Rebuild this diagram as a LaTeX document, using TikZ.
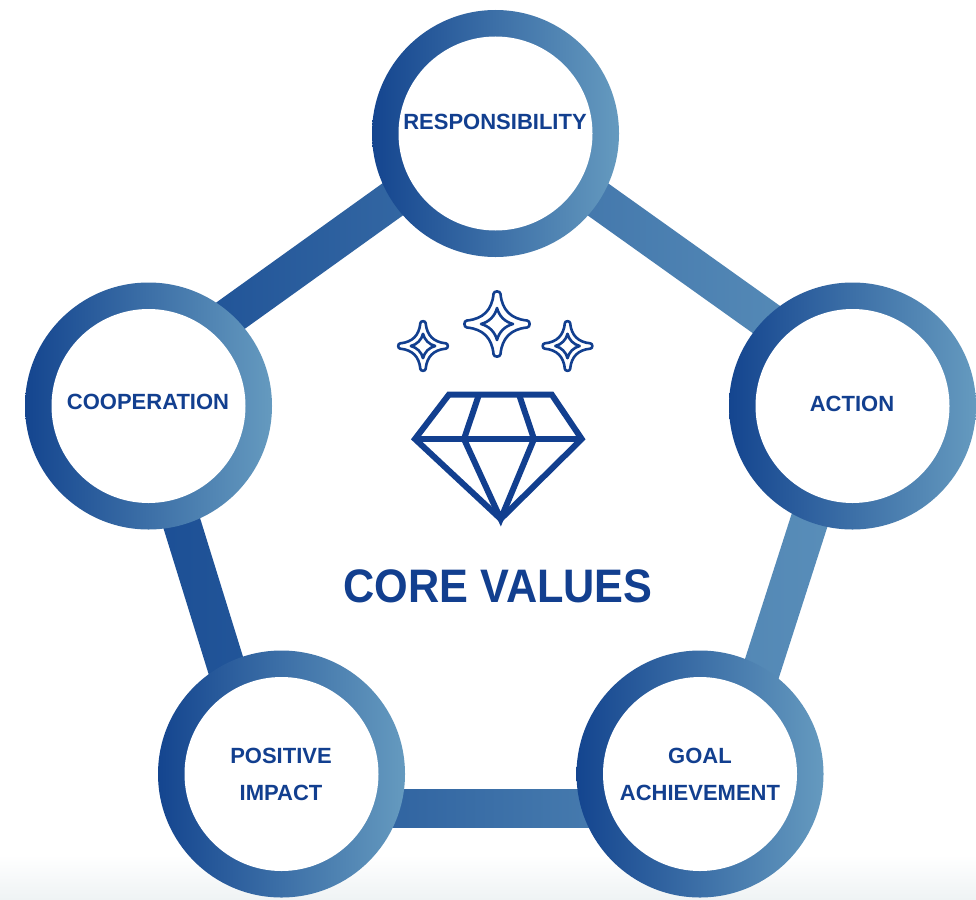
\documentclass[tikz,border=0pt]{standalone}
\usepackage{fontspec}
\setmainfont{Liberation Sans}
\usetikzlibrary{calc}
\definecolor{valblue}{HTML}{123F8F}
\definecolor{ringL}{HTML}{14458F}
\definecolor{ringR}{HTML}{659ABF}
\definecolor{barL}{HTML}{1A4D94}
\definecolor{barR}{HTML}{5B90BA}
\definecolor{fogC}{HTML}{EFF3F4}
\newcommand{\linkbar}[4]{\shade[left color=barR!#3!barL, right color=barR!#4!barL]
  ($(#1)!19pt!90:(#2)$) -- ($(#1)!19pt!-90:(#2)$) -- ($(#2)!19pt!90:(#1)$) -- ($(#2)!19pt!-90:(#1)$) -- cycle;}
\newcommand{\sparkle}[3]{\begin{scope}[shift={(#1,#2)},scale=#3]
  \draw[starline] (30,-3.5) .. controls (33.5,-3.5) and (33.5,3.5) .. (30,3.5)
    .. controls (14,5) and (5,14) .. (3.5,30) .. controls (3.5,33.5) and (-3.5,33.5) .. (-3.5,30)
    .. controls (-5,14) and (-14,5) .. (-30,3.5) .. controls (-33.5,3.5) and (-33.5,-3.5) .. (-30,-3.5)
    .. controls (-14,-5) and (-5,-14) .. (-3.5,-30) .. controls (-3.5,-33.5) and (3.5,-33.5) .. (3.5,-30)
    .. controls (5,-14) and (14,-5) .. (30,-3.5) -- cycle;
  \draw[starline] (16,0) .. controls (8,2) and (2,8) .. (0,16) .. controls (-2,8) and (-8,2) .. (-16,0)
    .. controls (-8,-2) and (-2,-8) .. (0,-16) .. controls (2,-8) and (8,-2) .. (16,0) -- cycle;
\end{scope}}
\begin{document}
\begin{tikzpicture}[
  x=1pt, y=-1pt,
  ringnode/.style={circle, minimum size=247pt, inner sep=0pt, left color=ringL, right color=ringR},
  corenode/.style={circle, minimum size=194pt, inner sep=0pt, fill=white},
  valtext/.style={font=\bfseries\fontsize{22}{37}\selectfont, text=valblue, align=center, inner sep=0pt},
  gemline/.style={draw=valblue, line width=6pt, line join=miter},
  starline/.style={draw=valblue, line width=2.6pt, line join=round}
]
\useasboundingbox (0,0) rectangle (976,899);
\fill[white] (0,0) rectangle (976,899);
\shade[top color=white, bottom color=fogC] (0,855) rectangle (976,899);

\coordinate (ptop) at (495,126);
\coordinate (pright) at (854,382);
\coordinate (pgoal) at (717,808);
\coordinate (pimpact) at (270,808);
\coordinate (pleft) at (138,382);

\linkbar{ptop}{pright}{52}{100}
\linkbar{pright}{pgoal}{84}{100}
\linkbar{pimpact}{pgoal}{16}{87}
\linkbar{pleft}{pimpact}{0}{16}
\linkbar{pleft}{ptop}{0}{52}

\node[ringnode] (respring) at (495.5,133.5) {};
\node[ringnode] (actring) at (852.5,406) {};
\node[ringnode] (goalring) at (700,774) {};
\node[ringnode] (impring) at (281.5,774) {};
\node[ringnode] (coopring) at (148.5,406) {};
\node[corenode] at (respring) {};
\node[corenode] at (actring) {};
\node[corenode] at (goalring) {};
\node[corenode] at (impring) {};
\node[corenode] at (coopring) {};

\node[valtext] (resp) at (495,122) {RESPONSIBILITY};
\node[valtext] (act) at (852,404) {ACTION};
\node[valtext] (goal) at (700,774) {GOAL\\ACHIEVEMENT};
\node[valtext] (imp) at (281,774) {POSITIVE\\IMPACT};
\node[valtext] (coop) at (148,402) {COOPERATION};
\node[valtext, font=\bfseries\fontsize{47}{47}\selectfont, xscale=0.92] (core) at (498,586) {CORE VALUES};

\sparkle{497}{324}{1}
\sparkle{423}{346}{0.76}
\sparkle{567.5}{346}{0.76}

\draw[gemline] (449,394.5) -- (551.7,394.5) -- (581.7,439) -- (500.7,519) -- (415,439) -- cycle;
\draw[gemline] (415,439) -- (581.7,439);
\draw[gemline] (479,394.5) -- (464,439) -- (500.7,519) -- (534,439) -- (519,394.5);
\end{tikzpicture}
\end{document}
